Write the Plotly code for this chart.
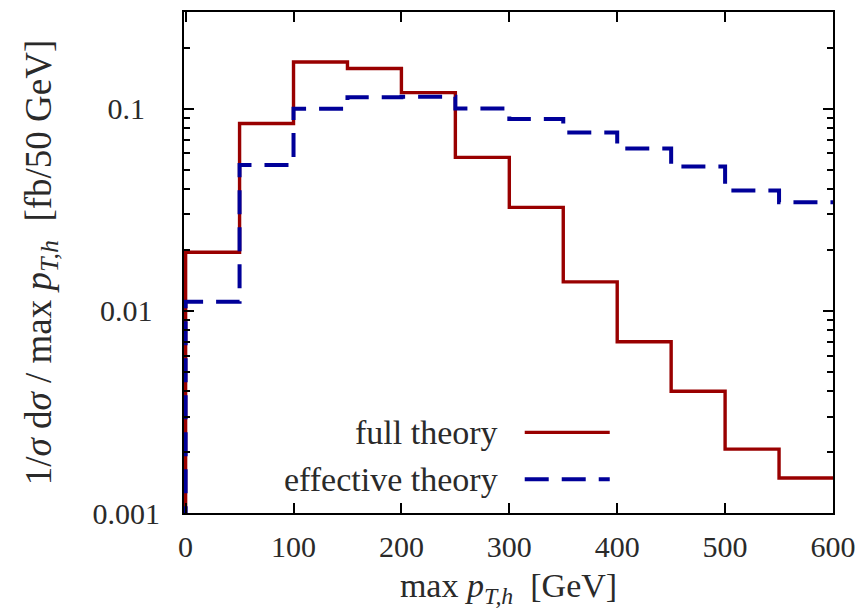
import plotly.graph_objects as go

# bin edges (GeV) and bin contents
edges = [0, 50, 100, 150, 200, 250, 300, 350, 400, 450, 500, 550, 600]
full_theory = [0.0195, 0.0844, 0.170, 0.158, 0.120, 0.0574, 0.0325, 0.0139,
               0.00703, 0.0040, 0.00207, 0.00149]
effective_theory = [0.0111, 0.0526, 0.100, 0.1138, 0.1146, 0.1003, 0.0889,
                    0.0762, 0.0635, 0.0518, 0.0394, 0.0344]
floor_value = 1e-4  # start of the histogram outline below the axis

x_ticks = [0, 100, 200, 300, 400, 500, 600]
y_ticks = [0.001, 0.01, 0.1]
# trailing non-breaking spaces keep the labels visually centred like the original
y_ticktext = ["0.001", "0.01&nbsp;", "0.1&nbsp;&nbsp;"]

RED = "rgb(153,0,0)"
BLUE = "rgb(0,0,153)"
FONT = "Liberation Serif"
TXT = "#2a2a2a"


def step_xy(vals):
    xs = [edges[0]] + edges
    ys = [floor_value] + vals + [vals[-1]]
    return xs, ys


fig = go.Figure()
xr, yr = step_xy(full_theory)
fig.add_trace(go.Scatter(x=xr, y=yr, mode="lines", line_shape="hv",
                         line=dict(color=RED, width=3.4), name="full theory",
                         showlegend=False))
xb, yb = step_xy(effective_theory)
fig.add_trace(go.Scatter(x=xb, y=yb, mode="lines", line_shape="hv",
                         line=dict(color=BLUE, width=4, dash="24px,13px"),
                         name="effective theory", showlegend=False))

# legend drawn in gnuplot style (text, then sample on the right)
leg_y = [0.161, 0.0676]
labels = ["full theory", "effective theory"]
for yy, lab, col, dash, w in zip(leg_y, labels, [RED, BLUE], ["solid", "24px,13px"], [3.4, 4]):
    fig.add_annotation(x=0.487, y=yy, xref="paper", yref="paper", text=lab,
                       showarrow=False, xanchor="right", yanchor="middle",
                       font=dict(family=FONT, size=34, color=TXT))
    fig.add_shape(type="line", xref="paper", yref="paper", x0=0.525, x1=0.656,
                  y0=yy, y1=yy, line=dict(color=col, width=w, dash=dash))

fig.update_layout(
    width=868, height=609,
    margin=dict(l=184, r=35, t=10, b=96),
    paper_bgcolor="white", plot_bgcolor="white",
    font=dict(family=FONT, size=30, color=TXT),
    showlegend=False,
)
fig.update_xaxes(
    range=[-1.5, 600], tickvals=x_ticks, ticktext=[str(v) for v in x_ticks],
    ticks="inside", ticklen=10, tickwidth=1.5, tickcolor="black",
    tickfont=dict(family=FONT, size=30, color=TXT),
    showline=True, linecolor="black", linewidth=2, mirror="ticks",
    showgrid=False, zeroline=False, ticklabelstandoff=6,
    title=dict(text="max <i>p</i><sub><i>T,h</i></sub>  [GeV]", standoff=12,
               font=dict(family=FONT, size=34, color=TXT)),
)
fig.update_yaxes(
    type="log", range=[-3, -0.522], tickvals=y_ticks, ticktext=y_ticktext,
    ticks="inside", ticklen=10, tickwidth=1.5, tickcolor="black",
    tickfont=dict(family=FONT, size=30, color=TXT),
    minor=dict(ticks="inside", ticklen=6, tickwidth=1.5, tickcolor="black",
               dtick="D1", showgrid=False),
    showline=True, linecolor="black", linewidth=2, mirror="ticks",
    showgrid=False, zeroline=False, ticklabelstandoff=16,
    title=dict(text="1/<i>σ</i> d<i>σ</i> / max <i>p</i><sub><i>T,h</i></sub>  [fb/50 GeV]",
               standoff=30, font=dict(family=FONT, size=37, color=TXT)),
)

fig.write_html("out.html")
